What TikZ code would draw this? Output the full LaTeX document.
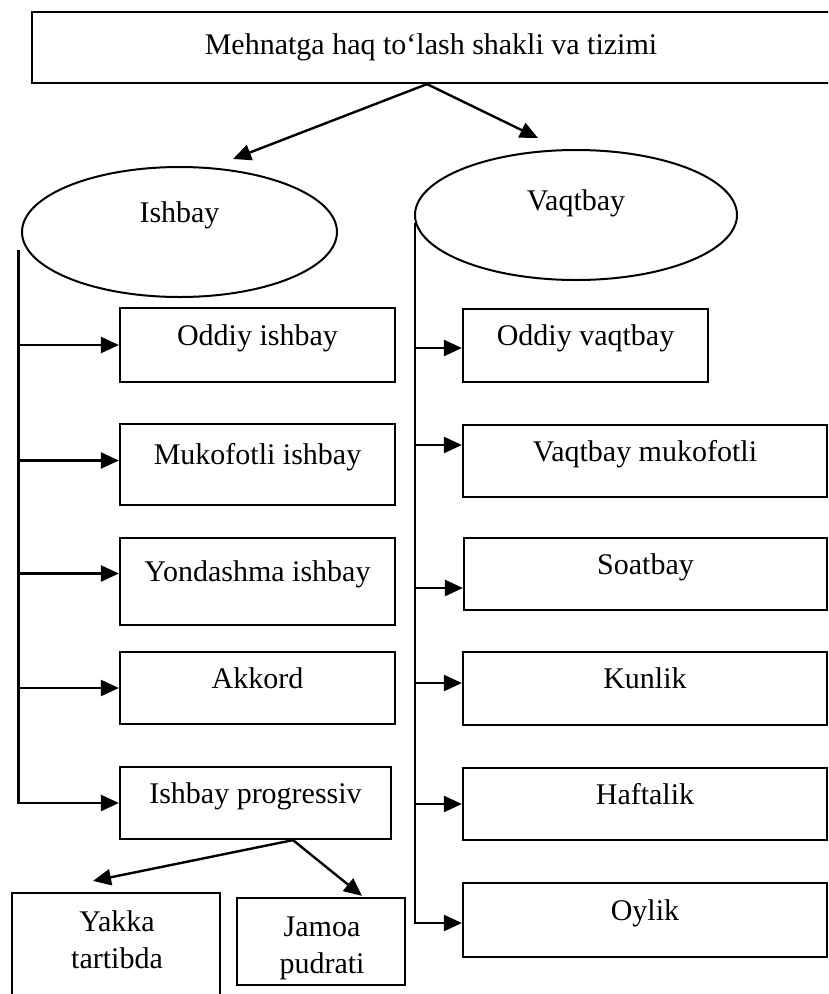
\documentclass[tikz,border=0pt]{standalone}
\usepackage{fontspec}
\setmainfont{Liberation Serif}
\usetikzlibrary{arrows.meta,shapes.geometric}
\begin{document}
\begin{tikzpicture}[x=1pt,y=-1pt,
  every node/.style={font=\fontsize{30}{37}\selectfont},
  topbox/.style={draw,line width=2.2pt,rectangle,inner sep=0pt},
  box/.style={draw,line width=2.2pt,rectangle,inner sep=0pt,text height=21pt,text depth=21pt},
  plainbox/.style={draw,line width=2.2pt,rectangle,inner sep=0pt},
  oval/.style={draw,line width=2pt,ellipse,inner sep=0pt,text height=21pt},
  arr/.style={line width=2.4pt,-{Triangle[length=18pt,width=16pt]}},
  ln/.style={line width=2.4pt}]
\useasboundingbox (0,0) rectangle (828,994);
\clip (0,0) rectangle (828,994);

% top
\node[topbox,minimum width=798pt,minimum height=71pt] (top) at (431,47.5) {Mehnatga haq to‘lash shakli va tizimi};

% ellipses
\node[oval,minimum width=315pt,minimum height=130pt,text depth=41pt] (ish) at (179.5,232) {Ishbay};
\node[oval,minimum width=322pt,minimum height=130pt,text depth=31pt] (vaq) at (576,215) {Vaqtbay};

% left boxes
\node[box,minimum width=275pt,minimum height=74pt] (l1) at (257.5,345) {Oddiy ishbay};
\node[box,minimum width=275pt,minimum height=81pt] (l2) at (257.5,464.5) {Mukofotli ishbay};
\node[box,minimum width=275pt,minimum height=87pt] (l3) at (257.5,581.5) {Yondashma ishbay};
\node[box,minimum width=275pt,minimum height=72pt] (l4) at (257.5,688) {Akkord};
\node[box,minimum width=271pt,minimum height=72pt] (l5) at (255.5,803) {Ishbay progressiv};

% right boxes
\node[box,minimum width=245pt,minimum height=73pt] (r1) at (585.5,345.5) {Oddiy vaqtbay};
\node[box,minimum width=364pt,minimum height=72pt] (r2) at (645,461) {Vaqtbay mukofotli};
\node[box,minimum width=363pt,minimum height=72pt] (r3) at (645.5,574) {Soatbay};
\node[box,minimum width=364pt,minimum height=73pt] (r4) at (645,688.5) {Kunlik};
\node[box,minimum width=364pt,minimum height=72pt] (r5) at (645,804) {Haftalik};
\node[box,minimum width=364pt,minimum height=74pt] (r6) at (645,920) {Oylik};

% bottom boxes
\node[plainbox,minimum width=208pt,minimum height=117pt] (yak) at (116,951.5) {};
\node[align=center,inner sep=0pt] (yakt) at (117,940) {Yakka\\tartibda};
\node[plainbox,minimum width=168pt,minimum height=87pt] (jam) at (321,941.5) {};
\node[align=center,inner sep=0pt] (jamt) at (322,948) {Jamoa\\pudrati};

% top arrows
\coordinate (topo) at ([xshift=-4pt]top.south);
\coordinate (ishT) at ([xshift=53.5pt,yshift=7pt]ish.north);
\coordinate (vaqT) at ([xshift=-38pt,yshift=11pt]vaq.north);
\draw[arr] (topo) -- (ishT);
\draw[arr] (topo) -- (vaqT);

% left trunk
\coordinate (lt) at ([xshift=-2.5pt,yshift=-18pt]ish.west);
\draw[arr] (lt) |- (l5.west);
\draw[arr] (lt |- l1.west) -- (l1.west);
\draw[arr] ([yshift=4pt]lt |- l2.west) -- ([yshift=4pt]l2.west);
\draw[arr] ([yshift=8pt]lt |- l3.west) -- ([yshift=8pt]l3.west);
\draw[arr] (lt |- l4.west) -- (l4.west);

% right trunk
\coordinate (rt) at ([xshift=1pt,yshift=-8pt]vaq.west);
\draw[arr] (rt) |- ([yshift=-3pt]r6.west);
\draw[arr] ([yshift=-2.5pt]rt |- r1.west) -- ([yshift=-2.5pt]r1.west);
\draw[arr] ([yshift=16pt]rt |- r2.west) -- ([yshift=16pt]r2.west);
\draw[arr] ([yshift=-14pt]rt |- r3.west) -- ([yshift=-14pt]r3.west);
\draw[arr] ([yshift=5.5pt]rt |- r4.west) -- ([yshift=5.5pt]r4.west);
\draw[arr] (rt |- r5.west) -- (r5.west);

% progressiv arrows
\coordinate (po) at ([xshift=37.5pt]l5.south);
\coordinate (yakT) at ([xshift=-23pt,yshift=11pt]yak.north);
\coordinate (jamT) at ([xshift=41pt,yshift=1pt]jam.north);
\draw[arr] (po) -- (yakT);
\draw[arr] (po) -- (jamT);
\end{tikzpicture}
\end{document}
